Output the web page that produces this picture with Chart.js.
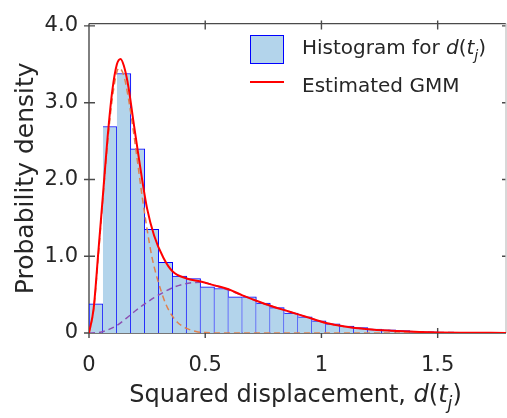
<!DOCTYPE html>
<html>
<head>
<meta charset="utf-8">
<script src="https://cdn.jsdelivr.net/npm/chart.js@4.4.0/dist/chart.umd.min.js"></script>
<style>
  html, body { margin: 0; padding: 0; background: #fff; overflow: hidden; }
</style>
</head>
<body>
<canvas id="gmmChart" width="507" height="418"></canvas>
<script>
// Histogram of squared displacement (bin width 0.06)
const binWidth = 0.06;
const binStarts = [0.00, 0.06, 0.12, 0.18, 0.24, 0.30, 0.36, 0.42, 0.48, 0.54,
                   0.60, 0.66, 0.72, 0.78, 0.84, 0.90, 0.96, 1.02, 1.08, 1.14,
                   1.20, 1.26, 1.32, 1.38, 1.44, 1.50, 1.56, 1.62];
const histValues = [0.38, 2.69, 3.38, 2.40, 1.35, 0.92, 0.74, 0.71, 0.60, 0.58,
                    0.47, 0.47, 0.39, 0.33, 0.26, 0.21, 0.16, 0.12, 0.09, 0.07,
                    0.05, 0.04, 0.03, 0.02, 0.015, 0.01, 0.01, 0.01];

// Estimated GMM (total)
const gmmX = [0, 0.02, 0.04, 0.06, 0.08, 0.10, 0.12, 0.136, 0.15, 0.17, 0.19, 0.21, 0.23, 0.25,
              0.28, 0.32, 0.36, 0.42, 0.48, 0.54, 0.60, 0.66, 0.72, 0.78, 0.86, 0.94, 1.02,
              1.10, 1.20, 1.30, 1.40, 1.50, 1.60, 1.794];
const gmmY = [0, 0.32, 1.05, 1.80, 2.55, 3.15, 3.50, 3.57, 3.48, 3.20, 2.78, 2.37, 1.97, 1.62,
              1.27, 0.98, 0.80, 0.71, 0.67, 0.62, 0.57, 0.49, 0.42, 0.355, 0.28, 0.205, 0.13,
              0.085, 0.05, 0.03, 0.016, 0.008, 0.004, 0.001];

// first component (orange dashed)
const comp1X = [0, 0.02, 0.04, 0.06, 0.08, 0.10, 0.12, 0.13, 0.15, 0.17, 0.19, 0.21, 0.23, 0.25,
                0.27, 0.29, 0.31, 0.33, 0.35, 0.38, 0.42, 0.46, 0.50, 0.60, 1.794];
const comp1Y = [0, 0.30, 1.00, 1.75, 2.48, 3.05, 3.40, 3.45, 3.35, 3.05, 2.65, 2.20, 1.75, 1.35,
                1.00, 0.75, 0.55, 0.38, 0.26, 0.14, 0.06, 0.02, 0.005, 0, 0];

// second component (purple dashed)
const comp2X = [0, 0.04, 0.08, 0.12, 0.16, 0.20, 0.24, 0.28, 0.32, 0.36, 0.40, 0.44, 0.48, 0.54,
                0.60, 0.66, 0.72, 0.78, 0.86, 0.94, 1.02, 1.10, 1.20, 1.30, 1.40, 1.50, 1.60, 1.794];
const comp2Y = [0, 0.005, 0.04, 0.10, 0.19, 0.29, 0.38, 0.46, 0.53, 0.59, 0.63, 0.655, 0.66, 0.62,
                0.56, 0.49, 0.42, 0.355, 0.28, 0.205, 0.13, 0.085, 0.05, 0.03, 0.016, 0.008, 0.004, 0.001];

const xTicks = [0, 0.5, 1, 1.5];
const yTicks = [0, 1, 2, 3, 4];

const FONT = '"DejaVu Sans", Verdana, sans-serif';
const barFill = '#b3d4eb';
const barEdge = 'rgb(0,0,255)';

// draw a line of text made of plain / italic / subscript parts
function drawRich(ctx, parts, x, y, size, align) {
  const fontFor = p => (p.i ? 'italic ' : '') + (p.sub ? size * 0.72 : size) + 'px ' + FONT;
  let total = 0;
  parts.forEach(p => { ctx.font = fontFor(p); total += ctx.measureText(p.t).width; });
  let cx = align === 'center' ? x - total / 2 : x;
  ctx.textAlign = 'left';
  ctx.textBaseline = 'alphabetic';
  parts.forEach(p => {
    ctx.font = fontFor(p);
    ctx.fillText(p.t, cx, p.sub ? y + size * 0.3 : y);
    cx += ctx.measureText(p.t).width;
  });
}

const dOfT = [
  { t: 'd', i: true }, { t: '(' }, { t: 't', i: true }, { t: 'j', i: true, sub: true }, { t: ')' }
];

const framePlugin = {
  id: 'frame',
  beforeDatasetsDraw(chart) {
    const { ctx, chartArea: a, scales: { x, y } } = chart;
    ctx.save();
    ctx.strokeStyle = '#4a4a4a';
    ctx.lineWidth = 1.4;
    ctx.beginPath();
    ctx.moveTo(a.left, a.top); ctx.lineTo(a.right, a.top);
    ctx.moveTo(a.left, a.top); ctx.lineTo(a.left, a.bottom);
    ctx.moveTo(a.left, a.bottom); ctx.lineTo(a.right, a.bottom);
    xTicks.forEach(v => {
      const px = x.getPixelForValue(v);
      ctx.moveTo(px, a.bottom - 5); ctx.lineTo(px, a.bottom + 5);
      if (v > 0) { ctx.moveTo(px, a.top - 3); ctx.lineTo(px, a.top + 6); }
    });
    yTicks.forEach(v => {
      const py = y.getPixelForValue(v);
      ctx.moveTo(a.left - 5, py); ctx.lineTo(a.left + 6, py);
      if (v > 0) { ctx.moveTo(a.right - 4, py); ctx.lineTo(a.right, py); }
    });
    ctx.stroke();
    ctx.strokeStyle = '#c8c8c8';
    ctx.beginPath();
    ctx.moveTo(a.right, a.top); ctx.lineTo(a.right, a.bottom);
    ctx.stroke();
    ctx.restore();
  },
  afterDraw(chart) {
    const { ctx, chartArea: a } = chart;
    ctx.save();
    ctx.fillStyle = '#262626';
    // x title
    drawRich(ctx, [{ t: 'Squared displacement, ' }].concat(dOfT),
      (a.left + a.right) / 2 - 2, 402, 24, 'center');
    // y title
    ctx.save();
    ctx.translate(33, (a.top + a.bottom) / 2);
    ctx.rotate(-Math.PI / 2);
    ctx.font = '25px ' + FONT;
    ctx.textAlign = 'center';
    ctx.textBaseline = 'alphabetic';
    ctx.fillText('Probability density', 0, 0);
    ctx.restore();

    // legend
    ctx.fillStyle = barFill;
    ctx.fillRect(250.5, 35.5, 33, 28);
    ctx.strokeStyle = barEdge;
    ctx.lineWidth = 1;
    ctx.strokeRect(250.5, 35.5, 33, 28);
    ctx.strokeStyle = '#ff0000';
    ctx.lineWidth = 2;
    ctx.beginPath();
    ctx.moveTo(250, 82); ctx.lineTo(284, 82);
    ctx.stroke();
    ctx.fillStyle = '#262626';
    drawRich(ctx, [{ t: 'Histogram for ' }].concat(dOfT), 302, 54, 20, 'left');
    drawRich(ctx, [{ t: 'Estimated GMM' }], 302, 91.5, 20, 'left');
    ctx.restore();
  }
};

const ctx = document.getElementById('gmmChart').getContext('2d');

const gmmChart = new Chart(ctx, {
  type: 'bar',
  data: {
    datasets: [
      {
        type: 'line',
        label: 'Estimated GMM',
        data: gmmX.map((v, i) => ({ x: v, y: gmmY[i] })),
        borderColor: '#ff0000',
        borderWidth: 2,
        pointRadius: 0,
        cubicInterpolationMode: 'monotone',
        order: 0
      },
      {
        type: 'line',
        label: 'Component 1',
        data: comp1X.map((v, i) => ({ x: v, y: comp1Y[i] })),
        borderColor: 'rgb(224,128,78)',
        borderWidth: 1.5,
        borderDash: [6, 4],
        pointRadius: 0,
        cubicInterpolationMode: 'monotone',
        order: 1
      },
      {
        type: 'line',
        label: 'Component 2',
        data: comp2X.map((v, i) => ({ x: v, y: comp2Y[i] })),
        borderColor: 'rgb(140,78,178)',
        borderWidth: 1.5,
        borderDash: [6, 4],
        pointRadius: 0,
        cubicInterpolationMode: 'monotone',
        order: 2
      },
      {
        type: 'bar',
        label: 'Histogram',
        data: binStarts.map((s, i) => ({ x: s + binWidth / 2, y: histValues[i] })),
        backgroundColor: barFill,
        borderColor: barEdge,
        borderWidth: c => ({ left: c.dataIndex === 0 ? 1 : 0, top: 1, right: 1, bottom: 0 }),
        borderSkipped: false,
        barPercentage: 1,
        categoryPercentage: 1,
        order: 3
      }
    ]
  },
  options: {
    responsive: false,
    animation: false,
    events: [],
    layout: { padding: { top: 15, right: 1, left: 0, bottom: 0 } },
    plugins: {
      legend: { display: false },
      tooltip: { enabled: false }
    },
    scales: {
      x: {
        type: 'linear',
        min: 0,
        max: 1.794,
        offset: false,
        grid: { display: false, drawTicks: false, tickLength: 0 },
        border: { display: false },
        afterBuildTicks: s => { s.ticks = xTicks.map(v => ({ value: v })); },
        afterFit: s => { s.height = 85; },
        ticks: {
          padding: 20,
          color: '#262626',
          font: { family: FONT, size: 21 },
          maxRotation: 0,
          callback: v => String(v)
        }
      },
      y: {
        min: 0,
        max: 4.03,
        grid: { display: false, drawTicks: false, tickLength: 0 },
        border: { display: false },
        afterBuildTicks: s => { s.ticks = yTicks.map(v => ({ value: v })); },
        afterFit: s => { s.width = 89; },
        ticks: {
          padding: 11,
          color: '#262626',
          font: { family: FONT, size: 21 },
          callback: v => (v === 0 ? '0' : v.toFixed(1))
        }
      }
    }
  },
  plugins: [framePlugin]
});
</script>
</body>
</html>
